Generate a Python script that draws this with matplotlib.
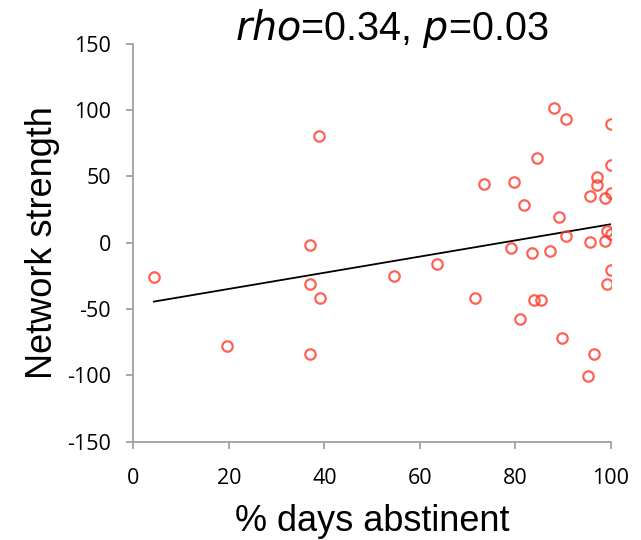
# Scatter of network strength vs % days abstinent with linear fit

import numpy as np
import matplotlib.pyplot as plt

# data
days_abstinent = [4.3, 19.7, 37.0, 37.0, 37.0, 38.9, 39.1, 54.6, 63.6, 71.5,
                  73.4, 79.7, 79.0, 80.9, 81.9, 83.4, 83.8, 84.6, 85.3, 87.3,
                  88.1, 89.1, 89.8, 90.6, 90.7, 95.2, 95.7, 95.7, 96.4, 97.1,
                  97.1, 98.8, 98.8, 99.2, 99.2, 100.0, 100.0, 100.0, 100.0, 100.0]
network_strength = [-26, -78, -1.5, -31, -83.5, 80.7, -41.7, -24.8, -15.7, -41.7,
                    44.5, 45.5, -4, -57.4, 28.8, -7.6, -43, 64, -43, -6.1,
                    101.4, 19.5, -71.6, 4.8, 93.6, -100.2, 35.1, 0.5, -83.5, 49.8,
                    43.2, 33.6, 1.5, 8.6, -31.1, 89.8, 58.4, 37.7, 6.8, -20.7]
x_ticks = [0, 20, 40, 60, 80, 100]
y_ticks = [-150, -100, -50, 0, 50, 100, 150]


def main():
    x = np.array(days_abstinent)
    y = np.array(network_strength)

    fig = plt.figure(figsize=(6.41, 5.40), dpi=100)
    ax = fig.add_axes([0.208, 0.182, 0.745, 0.737])

    ax.plot(x, y, 'o', ms=7.5, mfc='none', mec='#ff3b2b', mew=1.6, alpha=0.8,
            linestyle='none', zorder=3)

    # least squares trend line over the data range
    slope, intercept = np.polyfit(x, y, 1)
    xs = np.array([x.min(), x.max()])
    ax.plot(xs, slope * xs + intercept, color='black', lw=1.3, zorder=2)

    ax.set_xlim(0, 100)
    ax.set_ylim(-150, 150)
    ax.set_xticks(x_ticks)
    ax.set_yticks(y_ticks)
    ax.set_xticklabels([str(t) for t in x_ticks], fontsize=15.5, family='Open Sans')
    ax.set_yticklabels([str(t) for t in y_ticks], fontsize=15.5, family='Open Sans')

    for side in ['top', 'right']:
        ax.spines[side].set_visible(False)
    for side in ['left', 'bottom']:
        ax.spines[side].set_color('#a0a0a0')
        ax.spines[side].set_linewidth(1.3)
    ax.tick_params(direction='out', length=5, width=1.3, color='#a0a0a0')
    ax.tick_params(axis='x', pad=14)
    ax.tick_params(axis='y', pad=11)

    ax.set_xlabel('% days abstinent', fontsize=26, family='Liberation Sans', labelpad=11)
    ax.set_ylabel('Network strength', fontsize=26, family='Liberation Sans', labelpad=5)
    fig.text(0.612, 0.926, r'$\it{rho}$=0.34, $\it{p}$=0.03', fontsize=28.5,
             family='Liberation Sans', ha='center', va='baseline')

    fig.savefig('out.png', dpi=100)


if __name__ == '__main__':
    main()
